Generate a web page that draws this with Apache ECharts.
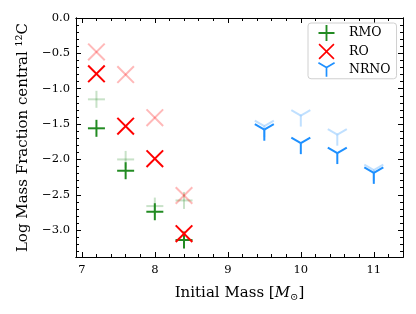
<!DOCTYPE html>
<html>
<head>
<meta charset="utf-8">
<script src="https://cdn.jsdelivr.net/npm/echarts@6/dist/echarts.min.js"></script>
<style>html,body{margin:0;padding:0;background:#fff;}#c{width:416px;height:314px;}</style>
</head>
<body>
<div id="c"></div>
<script>
// ---- data ----
const massesLow = [7.2, 7.6, 8.0, 8.4];
const massesHigh = [9.5, 10.0, 10.5, 11.0];
const rmo = [-1.56, -2.16, -2.74, -3.14];
const rmoFaded = [-1.15, -2.0, -2.66, -2.58];
const ro = [-0.79, -1.53, -1.99, -3.05];
const roFaded = [-0.48, -0.80, -1.41, -2.51];
const nrno = [-1.58, -1.77, -1.91, -2.19];
const nrnoFaded = [-1.53, -1.38, -1.65, -2.15];
const seriesNames = ['RMO', 'RO', 'NRNO'];

// ---- ticks ----
const xMajorTicks = [7, 8, 9, 10, 11];
const xMinorTicks = [7.0, 7.2, 7.4, 7.6, 7.8, 8.0, 8.2, 8.4, 8.6, 8.8, 9.0, 9.2, 9.4, 9.6, 9.8, 10.0, 10.2, 10.4, 10.6, 10.8, 11.0, 11.2, 11.4];
const yMajorTicks = [-3.0, -2.5, -2.0, -1.5, -1.0, -0.5, 0.0];
const yMinorTicks = [-3.3, -3.2, -3.1, -3.0, -2.9, -2.8, -2.7, -2.6, -2.5, -2.4, -2.3, -2.2, -2.1, -2.0, -1.9, -1.8, -1.7, -1.6, -1.5, -1.4, -1.3, -1.2, -1.1, -1.0, -0.9, -0.8, -0.7, -0.6, -0.5, -0.4, -0.3, -0.2, -0.1, 0.0];

const GREEN = '#228b22', RED = '#ff0000', BLUE = '#1e90ff';
const FONT = 'DejaVu Serif';

function pairs(xs, ys) { return xs.map((x, i) => [x, ys[i]]); }

function rgba(hex, a) {
  const r = parseInt(hex.slice(1, 3), 16), g = parseInt(hex.slice(3, 5), 16), b = parseInt(hex.slice(5, 7), 16);
  return 'rgba(' + r + ',' + g + ',' + b + ',' + a + ')';
}

const SEGS = {
  plus: [[-8.5, 0, 8.5, 0], [0, -8.5, 0, 8.5]],
  cross: [[-8.3, -8.3, 8.3, 8.3], [-8.3, 8.3, 8.3, -8.3]],
  tri: [[0, 0, 0, 11], [0, 0, -9.5, -5.5], [0, 0, 9.5, -5.5]]
};

function makeRender(kind, color) {
  return function (params, api) {
    const p = api.coord([api.value(0), api.value(1)]);
    return {
      type: 'group',
      children: SEGS[kind].map(s => ({
        type: 'line',
        shape: { x1: p[0] + s[0], y1: p[1] + s[1], x2: p[0] + s[2], y2: p[1] + s[3] },
        style: { stroke: color, lineWidth: 2, lineCap: 'butt' }
      }))
    };
  };
}

function mkSeries(name, kind, color, data) {
  return {
    name: name, type: 'custom', xAxisIndex: 0, yAxisIndex: 0,
    itemStyle: { color: color },
    renderItem: makeRender(kind, color),
    data: data, z: 5
  };
}

const ICON_PLUS = 'path://M7.5,0H9.5V7.5H17V9.5H9.5V17H7.5V9.5H0V7.5H7.5Z';
const ICON_CROSS = 'path://M0,1.2L1.2,0L8.5,7.3L15.8,0L17,1.2L9.7,8.5L17,15.8L15.8,17L8.5,9.7L1.2,17L0,15.8L7.3,8.5Z';
const ICON_TRI = 'path://M8.5,5.5H10.5V16.5H8.5Z M0.5,-0.87L10,4.63L9,6.37L-0.5,0.87Z M19.5,0.87L10,6.37L9,4.63L18.5,-0.87Z';

const fmtY = v => v.toFixed(1).replace('-', '\u2212');

function xAx(pos, ticks, len, labels) {
  return {
    type: 'value', position: pos, min: 6.92, max: 11.4,
    axisLine: { show: true, onZero: false, lineStyle: { color: '#000', width: 1 } },
    axisTick: { show: true, inside: true, length: len, customValues: ticks, lineStyle: { color: '#000', width: 1 } },
    axisLabel: labels ? { show: true, customValues: ticks, margin: 7, color: '#000', fontFamily: FONT, fontStyle: 'normal', fontSize: 11.5 } : { show: false },
    splitLine: { show: false }
  };
}
function yAx(pos, ticks, len, labels) {
  return {
    type: 'value', position: pos, min: -3.38, max: 0,
    axisLine: { show: true, onZero: false, lineStyle: { color: '#000', width: 1 } },
    axisTick: { show: true, inside: true, length: len, customValues: ticks, lineStyle: { color: '#000', width: 1 } },
    axisLabel: labels ? { show: true, customValues: ticks, margin: 6, color: '#000', fontFamily: FONT, fontStyle: 'normal', fontSize: 11.5, formatter: fmtY } : { show: false },
    splitLine: { show: false }
  };
}

const xMain = xAx('bottom', xMajorTicks, 5, true);
xMain.name = '{t|Initial Mass [}{m|M}{s|\u2299}{t|]}';
xMain.nameLocation = 'middle';
xMain.nameGap = 27;
xMain.nameTextStyle = {
  color: '#000', fontFamily: FONT, fontSize: 15, fontStyle: 'normal',
  rich: {
    t: { fontFamily: FONT, fontSize: 15, fontStyle: 'normal', color: '#000' },
    m: { fontFamily: FONT, fontSize: 15, fontStyle: 'italic', color: '#000' },
    s: { fontFamily: FONT, fontSize: 10, fontStyle: 'normal', color: '#000', padding: [8, 0, 0, 0] }
  }
};
const yMain = yAx('left', yMajorTicks, 5, true);
yMain.name = 'Log Mass Fraction central \u00b9\u00b2C';
yMain.nameLocation = 'middle';
yMain.nameGap = 45;
yMain.nameTextStyle = { color: '#000', fontFamily: FONT, fontSize: 15, fontStyle: 'normal' };

const option = {
  animation: false,
  backgroundColor: '#fff',
  grid: { left: 76, right: 13, top: 18, bottom: 57, containLabel: false },
  xAxis: [xMain, xAx('bottom', xMinorTicks, 3, false), xAx('top', xMajorTicks, 5, false), xAx('top', xMinorTicks, 3, false)],
  yAxis: [yMain, yAx('left', yMinorTicks, 3, false), yAx('right', yMajorTicks, 5, false), yAx('right', yMinorTicks, 3, false)],
  legend: {
    orient: 'vertical', left: 308, top: 23,
    padding: [2, 6, 2, 10], itemGap: 2.5, itemWidth: 17, itemHeight: 16,
    symbolKeepAspect: true,
    backgroundColor: 'rgba(255,255,255,0.8)', borderColor: '#d0d0d0', borderWidth: 1, borderRadius: 3,
    textStyle: { fontFamily: FONT, fontSize: 12.5, fontStyle: 'normal', color: '#000', padding: [0, 0, 0, 9] },
    data: [
      { name: seriesNames[0], icon: ICON_PLUS },
      { name: seriesNames[1], icon: ICON_CROSS },
      { name: seriesNames[2], icon: ICON_TRI }
    ]
  },
  series: [
    mkSeries('RMO faded', 'plus', rgba(GREEN, 0.25), pairs(massesLow, rmoFaded)),
    mkSeries('RO faded', 'cross', rgba(RED, 0.28), pairs(massesLow, roFaded)),
    mkSeries('NRNO faded', 'tri', rgba(BLUE, 0.28), pairs(massesHigh, nrnoFaded)),
    mkSeries(seriesNames[0], 'plus', GREEN, pairs(massesLow, rmo)),
    mkSeries(seriesNames[1], 'cross', RED, pairs(massesLow, ro)),
    mkSeries(seriesNames[2], 'tri', BLUE, pairs(massesHigh, nrno))
  ]
};

const chart = echarts.init(document.getElementById('c'), null, { renderer: 'canvas' });
chart.setOption(option);
</script>
</body>
</html>
